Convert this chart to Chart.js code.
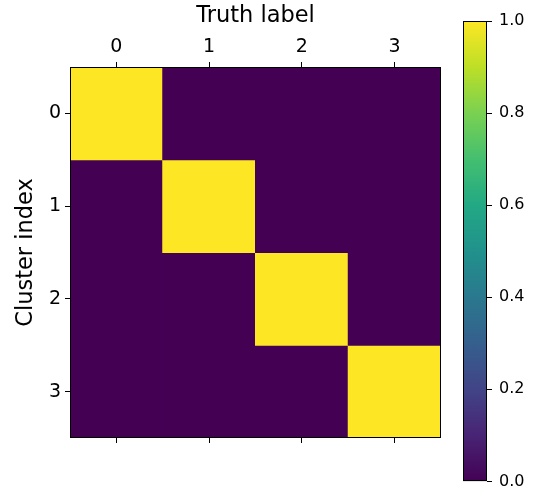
<!DOCTYPE html>
<html>
<head>
<meta charset="utf-8">
<script src="https://cdn.jsdelivr.net/npm/chart.js@4/dist/chart.umd.min.js"></script>
<style>
  body { margin: 0; background: #fff; }
  canvas { position: absolute; left: 0; top: 0; }
</style>
</head>
<body>
<canvas id="heat" width="536" height="498"></canvas>
<canvas id="cbar" width="536" height="498"></canvas>
<script>
const truthLabels = ["0", "1", "2", "3"]
const clusterLabels = ["0", "1", "2", "3"]
const confusion = [
    [1, 0, 0, 0],
    [0, 1, 0, 0],
    [0, 0, 1, 0],
    [0, 0, 0, 1]
]
const cbarTicks = [0, 0.2, 0.4, 0.6, 0.8, 1.0]

// viridis stops
const viridis = ["#440154", "#482475", "#414487", "#355f8d", "#2a788e", "#21918c",
    "#22a884", "#44bf70", "#7ad151", "#bddf26", "#fde725"]

function hexToRgb(h) {
    return [1, 3, 5].map(i => parseInt(h.slice(i, i + 2), 16))
}
function viridisColor(t) {
    t = Math.max(0, Math.min(1, t))
    const p = t * (viridis.length - 1)
    const i = Math.min(Math.floor(p), viridis.length - 2)
    const f = p - i
    const a = hexToRgb(viridis[i]), b = hexToRgb(viridis[i + 1])
    const c = a.map((v, k) => Math.round(v + (b[k] - v) * f))
    return "rgb(" + c.join(",") + ")"
}

Chart.defaults.font.family = "'DejaVu Sans'"
Chart.defaults.color = "#000"

const frame = {
    id: "frame",
    afterDatasetsDraw(chart) {
        const a = chart.chartArea
        const ctx = chart.ctx
        ctx.save()
        ctx.strokeStyle = "#000"
        ctx.lineWidth = 1
        ctx.strokeRect(Math.round(a.left) + 0.5, Math.round(a.top) + 0.5,
            Math.round(a.right - a.left) - 1, Math.round(a.bottom - a.top) - 1)
        ctx.restore()
    }
}

const tickGrid = { drawOnChartArea: false, drawTicks: true, tickLength: 5, color: "#000", lineWidth: 1, offset: false }

new Chart(document.getElementById("heat"), {
    type: "bar",
    data: {
        labels: truthLabels,
        datasets: confusion.map((row, r) => ({
            label: clusterLabels[r],
            data: row.map(() => [r, r + 1]),
            backgroundColor: row.map(v => viridisColor(v)),
            borderWidth: 0,
            inflateAmount: 0.5,
            grouped: false,
            categoryPercentage: 1,
            barPercentage: 1,
            xAxisID: "x",
            yAxisID: "y"
        }))
    },
    options: {
        responsive: false,
        devicePixelRatio: 1,
        animation: false,
        layout: { padding: { left: 0, top: 0, right: 95, bottom: 0 } },
        plugins: { legend: { display: false }, tooltip: { enabled: false } },
        scales: {
            x: {
                type: "category",
                position: "top",
                offset: true,
                grid: tickGrid,
                border: { display: false },
                ticks: { font: { size: 19 }, padding: 4, maxRotation: 0 },
                title: { display: true, text: "Truth label", font: { size: 22.5 }, padding: { top: 3, bottom: 0 } },
                afterFit(s) { s.height = 67 }
            },
            xb: {
                type: "category",
                position: "bottom",
                labels: truthLabels,
                offset: true,
                grid: tickGrid,
                border: { display: false },
                ticks: { display: false },
                afterFit(s) { s.height = 60 }
            },
            y: {
                type: "linear",
                position: "left",
                reverse: true,
                min: 0,
                max: 4,
                grid: tickGrid,
                border: { display: false },
                afterBuildTicks(s) {
                    s.ticks = clusterLabels.map((_, i) => ({ value: i + 0.5 }))
                },
                ticks: {
                    font: { size: 19 },
                    padding: 4,
                    callback: v => clusterLabels[Math.floor(v)]
                },
                title: { display: true, text: "Cluster index", font: { size: 22.5 }, padding: { top: 13, bottom: 0 } },
                afterFit(s) { s.width = 70 }
            }
        }
    },
    plugins: [frame]
})

new Chart(document.getElementById("cbar"), {
    type: "bar",
    data: {
        labels: ["cb"],
        datasets: [{
            data: [[cbarTicks[0], cbarTicks[cbarTicks.length - 1]]],
            borderWidth: 0,
            categoryPercentage: 1,
            barPercentage: 1,
            backgroundColor(ctx) {
                const a = ctx.chart.chartArea
                if (!a) return viridis[0]
                const g = ctx.chart.ctx.createLinearGradient(0, a.bottom, 0, a.top)
                viridis.forEach((c, i) => g.addColorStop(i / (viridis.length - 1), c))
                return g
            }
        }]
    },
    options: {
        responsive: false,
        devicePixelRatio: 1,
        animation: false,
        layout: { padding: { left: 463, top: 21, right: 0, bottom: 14 } },
        plugins: { legend: { display: false }, tooltip: { enabled: false } },
        scales: {
            x: { display: false },
            y: {
                position: "right",
                min: 0,
                max: 1,
                grid: tickGrid,
                border: { display: false },
                afterBuildTicks(s) {
                    s.ticks = cbarTicks.map(v => ({ value: v }))
                },
                ticks: { font: { size: 16 }, padding: 7, callback: v => v.toFixed(1) },
                afterFit(s) { s.width = 49 }
            }
        }
    },
    plugins: [frame]
})
</script>
</body>
</html>
